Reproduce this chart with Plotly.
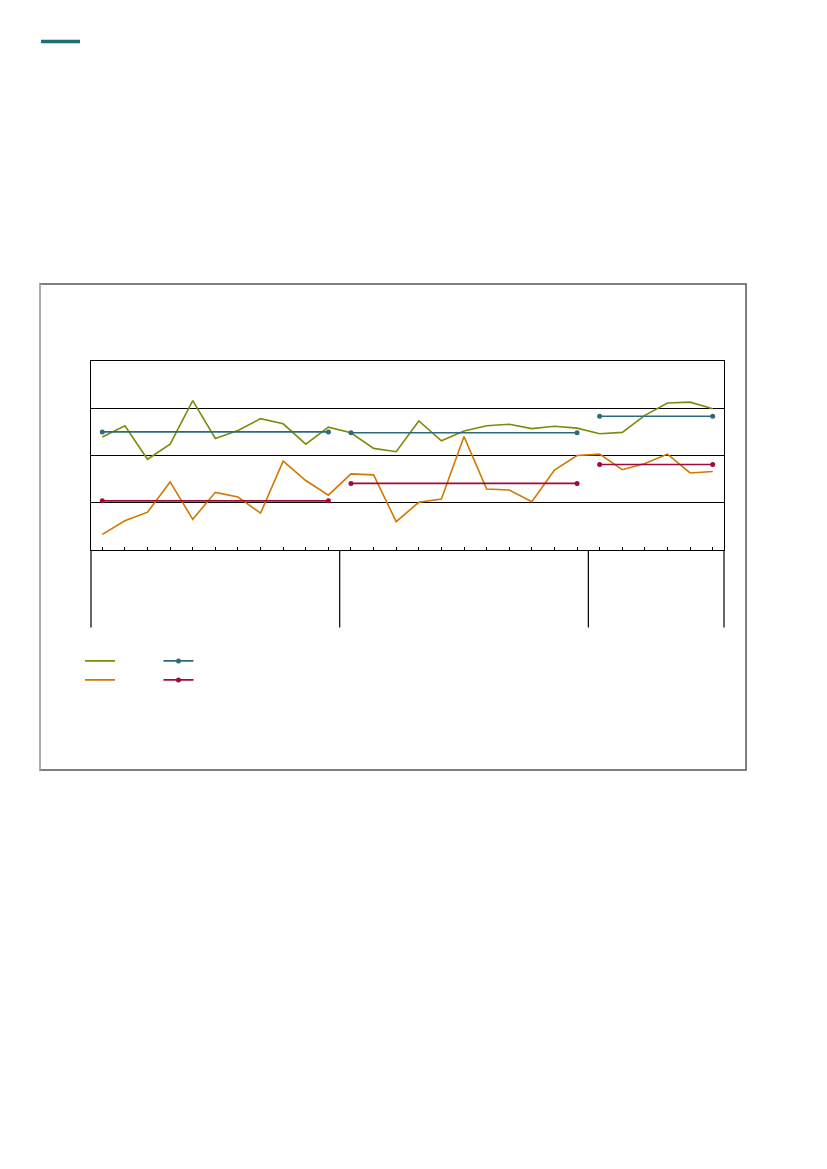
import plotly.graph_objects as go

# 28 observations in three groups (11, 11, 6)
x_idx = list(range(28))
group_bounds = [-0.5, 10.5, 21.5, 27.5]

olive_vals = [2.39, 2.63, 1.92, 2.24, 3.16, 2.36, 2.53, 2.78, 2.67, 2.24, 2.60,
              2.48, 2.15, 2.08, 2.73, 2.31, 2.52, 2.63, 2.66, 2.57, 2.62, 2.58,
              2.46, 2.49, 2.85, 3.11, 3.13, 2.99]
orange_vals = [0.33, 0.62, 0.80, 1.44, 0.65, 1.22, 1.12, 0.78, 1.88, 1.47, 1.16,
               1.61, 1.59, 0.60, 1.01, 1.08, 2.40, 1.29, 1.27, 1.02, 1.69, 2.00,
               2.03, 1.70, 1.83, 2.03, 1.63, 1.66]

# group mean segments (start index, end index)
seg_start = [0, 11, 22]
seg_end = [10, 21, 27]
olive_means = [2.50, 2.48, 2.83]
orange_means = [1.04, 1.41, 1.81]

OLIVE = "#7f8a0c"
ORANGE = "#d27800"
TEAL = "#2e6a7b"
CRIMSON = "#9e0b3e"


def segments(means):
    xs, ys = [], []
    for s, e, m in zip(seg_start, seg_end, means):
        xs += [s, e, None]
        ys += [m, m, None]
    return xs, ys


fig = go.Figure()

fig.add_trace(go.Scatter(x=x_idx, y=olive_vals, mode="lines", name=" ",
                         line=dict(color=OLIVE, width=1.6), legend="legend"))
fig.add_trace(go.Scatter(x=x_idx, y=orange_vals, mode="lines", name=" ",
                         line=dict(color=ORANGE, width=1.6), legend="legend"))

mx, my = segments(olive_means)
fig.add_trace(go.Scatter(x=mx, y=my, mode="lines+markers", name=" ",
                         line=dict(color=TEAL, width=1.6),
                         marker=dict(color=TEAL, size=5), legend="legend2"))
mx, my = segments(orange_means)
fig.add_trace(go.Scatter(x=mx, y=my, mode="lines+markers", name=" ",
                         line=dict(color=CRIMSON, width=1.6),
                         marker=dict(color=CRIMSON, size=5), legend="legend2"))

shapes = []
# group dividers below the axis
for i, b in enumerate(group_bounds):
    ref = "paper" if i in (0, len(group_bounds) - 1) else "x"
    xv = b if ref == "x" else (0 if i == 0 else 1)
    shapes.append(dict(type="line", xref=ref, yref="paper",
                       x0=xv, x1=xv, y0=0, y1=-0.41,
                       line=dict(color="black", width=1.2)))
# outer frame
shapes.append(dict(type="rect", xref="paper", yref="paper",
                   x0=-0.0806, x1=1.0348, y0=-1.164, y1=1.407,
                   line=dict(color="#555555", width=1.5)))
shapes.append(dict(type="line", xref="paper", yref="paper",
                   x0=-0.0806, x1=-0.0806, y0=-1.164, y1=1.407,
                   line=dict(color="#bbbbbb", width=1.5)))
# teal header bar
shapes.append(dict(type="rect", xref="paper", yref="paper",
                   x0=-0.0790, x1=-0.0174, y0=2.681, y1=2.700,
                   fillcolor="#16707a", line=dict(width=0)))

fig.update_layout(
    width=811,
    height=1153,
    margin=dict(l=83, r=95, t=353, b=611),
    paper_bgcolor="white",
    plot_bgcolor="white",
    font=dict(family="Liberation Sans", size=11, color="black"),
    shapes=shapes,
    showlegend=True,
    legend=dict(x=-0.0174, y=-0.51, xanchor="left", yanchor="top",
                bgcolor="rgba(0,0,0,0)", tracegroupgap=0,
                font=dict(size=11)),
    legend2=dict(x=0.1066, y=-0.51, xanchor="left", yanchor="top",
                 bgcolor="rgba(0,0,0,0)", tracegroupgap=0,
                 font=dict(size=11)),
)

fig.update_xaxes(range=[-0.5, 27.5], tick0=0, dtick=1, ticks="inside",
                 ticklen=3, tickcolor="black", showticklabels=False,
                 showgrid=False, zeroline=False, showline=True,
                 linecolor="black", linewidth=1.2, mirror=True)
fig.update_yaxes(range=[0, 4], dtick=1, ticks="", showticklabels=False,
                 showgrid=True, gridcolor="black", gridwidth=1.2,
                 zeroline=False, showline=True, linecolor="black",
                 linewidth=1.2, mirror=True)

fig.write_html("out.html")
